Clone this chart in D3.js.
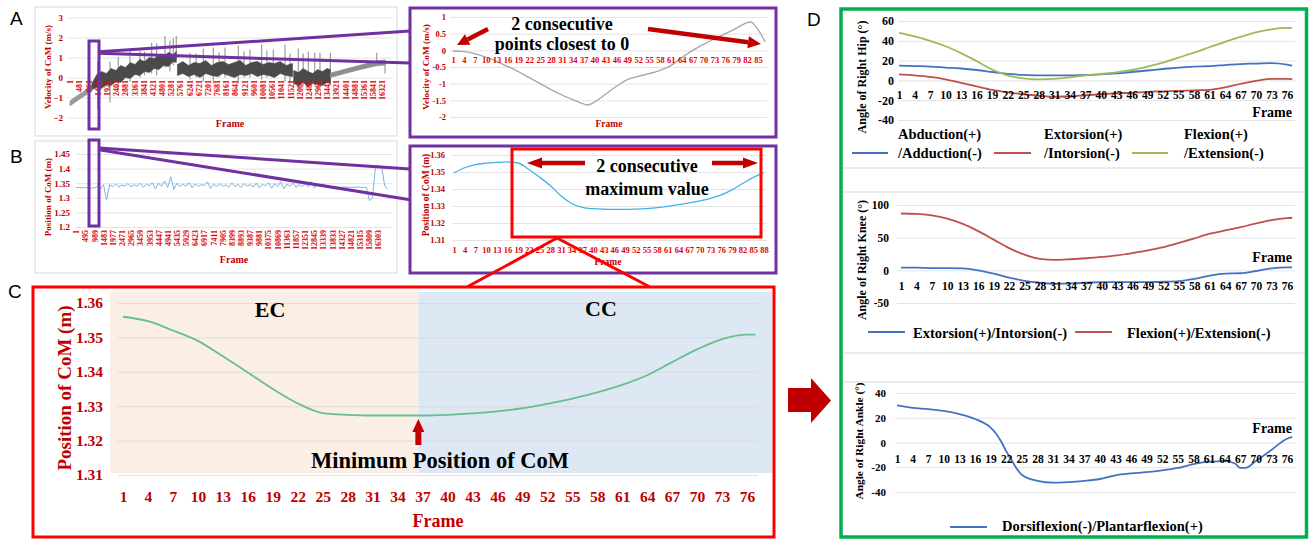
<!DOCTYPE html>
<html>
<head>
<meta charset="utf-8">
<script src="https://cdn.jsdelivr.net/npm/d3@7"></script>
<style>
  body { margin: 0; background: #fff; }
  svg { display: block; }
</style>
</head>
<body>
<svg id="fig" width="1309" height="540"></svg>
<script>
// ---------------------------------------------------------------------------
// Data
// ---------------------------------------------------------------------------

// Panel A (left) - whole trial, velocity of CoM (m/s). The dense signal is
// kept as a ragged min/max envelope plus the isolated tall spikes.
const velTrendFrames = [1, 300, 600, 900, 1150];
const velTrendLow = [-1.42, -1.22, -1.02, -0.84, -0.7];
const velTrendHigh = [-1.16, -0.96, -0.76, -0.56, -0.42];

const velRiseFrames = [1150, 1400, 1650, 1900, 2150, 2400, 2650, 2900, 3150, 3400, 3650, 3900, 4150, 4400, 4650, 4900, 5150, 5400, 5560];
const velRiseLow = [-0.6, -0.5, -0.55, -0.35, -0.4, -0.2, -0.25, 0.0, -0.05, 0.15, 0.1, 0.3, 0.25, 0.45, 0.4, 0.6, 0.55, 0.8, 0.75];
const velRiseHigh = [-0.3, 0.15, 0.3, 0.2, 0.45, 0.35, 0.6, 0.5, 0.75, 0.65, 0.9, 0.8, 1.0, 0.95, 1.1, 1.05, 1.25, 1.15, 1.3];

const velMidFrames = [5620, 5900, 6200, 6500, 6800, 7100, 7400, 7700, 8000, 8300, 8600, 8900, 9200, 9500, 9800, 10100, 10400, 10700, 11000, 11300, 11640];
const velMidLow = [0.1, 0.2, 0.05, 0.15, 0.0, 0.2, 0.1, 0.05, 0.2, 0.1, 0.0, 0.15, 0.1, 0.2, 0.05, 0.15, 0.1, 0.0, 0.2, 0.1, 0.05];
const velMidHigh = [0.65, 0.8, 0.6, 0.75, 0.7, 0.85, 0.6, 0.75, 0.8, 0.65, 0.75, 0.85, 0.6, 0.75, 0.8, 0.65, 0.75, 0.7, 0.8, 0.6, 0.7];

const velLowFrames = [11700, 11950, 12200, 12450, 12700, 12950, 13200, 13450, 13620];
const velLowLow = [-0.3, -0.4, -0.25, -0.45, -0.3, -0.35, -0.4, -0.25, -0.3];
const velLowHigh = [0.35, 0.25, 0.45, 0.3, 0.2, 0.4, 0.3, 0.45, 0.4];

const velTailFrames = [13620, 14400, 15200, 16000, 16480];
const velTailLow = [0.0, 0.2, 0.4, 0.58, 0.62];
const velTailHigh = [0.22, 0.42, 0.62, 0.82, 0.88];

const velSpikeFrames = [1450, 2093, 2527, 3139, 3662, 3900, 4272, 4534, 4970, 5231, 5405, 5560, 6277, 6600, 6975, 7497, 7800, 8108, 8806, 9100, 9415, 10027, 10300, 10636, 11246, 11508, 11943, 12200, 12466, 12800, 13076, 13620, 16042, 16480];
const velSpikeTop = [0.8, 0.8, 1.03, 1.42, 1.35, 1.3, 1.74, 1.7, 2.08, 1.85, 1.96, 2.08, 1.24, 1.2, 1.45, 1.5, 1.25, 1.5, 1.6, 1.3, 1.4, 1.65, 1.35, 1.4, 1.65, 1.2, 1.45, 1.2, 1.3, 1.25, 1.24, 1.24, 1.24, 0.75];
const velSpikeBottom = [-1.6, -1.25, -0.6, -0.2, 0.0, 0.1, 0.2, 0.1, 0.5, 0.3, 0.6, 0.9, -0.1, 0.0, -0.2, -0.3, 0.0, 0.0, -0.3, 0.0, 0.0, -0.1, 0.0, 0.0, -0.2, -0.3, -0.6, -0.4, -0.5, -0.4, -0.5, -0.4, 0.6, 0.2];

const velFullTicks = d3.range(1, 16322, 480);
const velFullYTicks = [-2, -1, 0, 1, 2, 3];

// Panel A (right) - zoomed velocity
const velZoomFrames = [1, 4, 7, 10, 13, 16, 19, 22, 25, 28, 31, 34, 37, 38, 40, 43, 46, 49, 52, 55, 58, 61, 64, 67, 70, 73, 76, 79, 82, 83, 85, 87];
const velZoomValues = [-0.02, -0.04, -0.1, -0.2, -0.33, -0.48, -0.64, -0.82, -1.0, -1.18, -1.34, -1.48, -1.61, -1.64, -1.55, -1.32, -1.08, -0.88, -0.78, -0.7, -0.6, -0.46, -0.22, 0.0, 0.18, 0.34, 0.5, 0.66, 0.83, 0.85, 0.62, 0.25];
const velZoomTicks = d3.range(1, 86, 3);
const velZoomYTicks = [-2, -1.5, -1, -0.5, 0, 0.5, 1];

// Panel B (left) - whole trial, position of CoM (m), one value every 165 frames
const posFullStep = 165;
const posFullValues = [
  1.335, 1.335, 1.334, 1.335, 1.335, 1.333, 1.334, 1.338, 1.330, 1.345,
  1.292, 1.345, 1.338, 1.348, 1.336, 1.344, 1.340, 1.349, 1.337, 1.345,
  1.339, 1.350, 1.336, 1.346, 1.341, 1.352, 1.330, 1.350, 1.340, 1.358,
  1.335, 1.372, 1.328, 1.350, 1.338, 1.347, 1.340, 1.352, 1.334, 1.348,
  1.339, 1.345, 1.342, 1.355, 1.332, 1.347, 1.338, 1.349, 1.340, 1.344,
  1.336, 1.351, 1.338, 1.346, 1.335, 1.349, 1.340, 1.345, 1.337, 1.350,
  1.334, 1.346, 1.341, 1.352, 1.333, 1.348, 1.339, 1.355, 1.331, 1.347,
  1.340, 1.350, 1.336, 1.345, 1.339, 1.348, 1.337, 1.356, 1.333, 1.344,
  1.340, 1.347, 1.338, 1.336, 1.336, 1.337, 1.336, 1.336, 1.337, 1.336,
  1.336, 1.336, 1.337, 1.336, 1.336, 1.336, 1.290, 1.300, 1.410, 1.410,
  1.408, 1.340, 1.330
];
const posFullTicks = d3.range(1, 16304, 494);
const posFullYTicks = [1.2, 1.25, 1.3, 1.35, 1.4, 1.45];

// Panel B (right) - zoomed position
const posZoomFrames = d3.range(1, 89, 3);
const posZoomValues = [1.3495, 1.3525, 1.3543, 1.3552, 1.3557, 1.3559, 1.3553, 1.3515, 1.3470, 1.3420, 1.3360, 1.3315, 1.3292, 1.3284, 1.3281, 1.3280, 1.3280, 1.3282, 1.3285, 1.3290, 1.3298, 1.3308, 1.3318, 1.3330, 1.3345, 1.3365, 1.3395, 1.3432, 1.3468, 1.3497];
const posZoomYTicks = [1.31, 1.32, 1.33, 1.34, 1.35, 1.36];

// Panel C - one cycle, position of CoM (m)
const cycleFrames = [1, 4, 7, 10, 13, 16, 19, 22, 25, 28, 31, 34, 37, 40, 43, 46, 49, 52, 55, 58, 61, 64, 67, 70, 73, 76, 77];
const cycleValues = [1.356, 1.3547, 1.352, 1.349, 1.3445, 1.3398, 1.335, 1.3308, 1.328, 1.3275, 1.3273, 1.3273, 1.3273, 1.3275, 1.3279, 1.3285, 1.3294, 1.3307, 1.3322, 1.334, 1.3362, 1.339, 1.3428, 1.3465, 1.3495, 1.3508, 1.3508];
const cycleTicks = d3.range(1, 77, 3);
const cycleYTicks = [1.31, 1.32, 1.33, 1.34, 1.35, 1.36];
const cycleSplitFrame = 36.5;

// Panel D - joint angles (deg) for the same cycle
const jointFrames = [1, 4, 7, 10, 13, 16, 19, 22, 25, 28, 31, 34, 37, 40, 43, 46, 49, 52, 55, 58, 61, 64, 67, 70, 73, 76, 77];
const hipAbduction = [15, 14.5, 14, 13, 12, 10.5, 8.5, 6.5, 5.5, 5, 5, 5, 5.5, 6, 7, 8.5, 10, 11.5, 13, 14, 14.5, 15.5, 16.5, 17, 17.5, 16, 15];
const hipExtorsion = [6, 5, 3.5, 1, -2.5, -6, -9.5, -12, -14, -15.5, -16.5, -16, -15, -14, -13, -12.5, -11.5, -11, -10.5, -10, -9.5, -7, -3.5, -0.5, 1.5, 1.5, 1.2];
const hipFlexion = [48, 44.5, 40, 34.5, 27.5, 19.5, 11, 5, 2, 1, 1.5, 3, 5, 6.5, 8, 10.5, 14, 18, 23, 28, 33.5, 39, 44, 48.5, 51.5, 53, 53];
const kneeExtorsion = [4, 4, 3.5, 3.5, 3, 0, -5, -11, -16, -19, -20.5, -20, -19, -18, -18, -18, -18, -17.5, -16.5, -13, -8, -5, -4.5, -1, 3, 4.5, 4.5];
const kneeFlexion = [87, 86.5, 84, 79, 71, 60, 47, 34, 24, 17.5, 16, 17, 18.5, 20.5, 23, 26.5, 30.5, 35.5, 42, 49, 56, 61, 66, 72, 77, 80, 80.5];
const ankleFrames = [1, 4, 7, 10, 13, 16, 19, 20, 21, 22, 23, 24, 25, 28, 31, 34, 37, 40, 43, 46, 49, 52, 55, 58, 61, 64, 66, 67, 68, 70, 73, 76, 77];
const ankleDorsi = [30, 28, 27, 25.5, 23, 19, 12, 7.5, 1, -7, -14, -21, -26, -31, -32.5, -32, -31, -29.5, -26.5, -25, -24, -22.5, -20.5, -17.5, -15.5, -15, -17, -20.5, -20.5, -15, -6, 3, 4.5];
const jointTicks = d3.range(1, 77, 3);
const hipYTicks = [-40, -20, 0, 20, 40, 60];
const kneeYTicks = [-50, 0, 50, 100];
const ankleYTicks = [-40, -20, 0, 20, 40];

// ---------------------------------------------------------------------------
// Styling
// ---------------------------------------------------------------------------
const SERIF = "'Liberation Serif','Times New Roman',serif";
const SANS = "'Liberation Sans',Arial,sans-serif";
const RED = "#C00000";
const PURPLE = "#7030A0";
const GRID = "#E4E4E4";

const svg = d3.select("#fig");

function yAxis(g, y, ticks, x0, x1, labelRight, size, color, gridColor, fmt) {
    const ax = d3.axisLeft(y)
        .tickValues(ticks)
        .tickSize(-(x1 - x0))
        .tickPadding(x0 - labelRight)
        .tickFormat(fmt || ((d) => String(d)));
    const a = g.append("g").attr("transform", `translate(${x0},0)`).call(ax);
    a.select(".domain").remove();
    a.selectAll(".tick line").attr("stroke", gridColor).attr("stroke-width", 1);
    a.selectAll(".tick text")
        .attr("fill", color)
        .style("font", `bold ${size}px ${SERIF}`);
    return a;
}

// Category labels along the frame axis; `offset` is the baseline distance
// below yPos (or, when rotated, the gap between yPos and the label end).
function xAxis(g, x, ticks, yPos, offset, size, color, rotate) {
    const ax = d3.axisBottom(x).tickValues(ticks).tickSize(0).tickFormat(d3.format("d"));
    const a = g.append("g").attr("transform", `translate(0,${yPos})`).call(ax);
    a.select(".domain").remove();
    const t = a.selectAll(".tick text")
        .attr("fill", color)
        .style("font", `bold ${size}px ${SERIF}`);
    if (rotate) {
        t.attr("transform", "rotate(-90)")
            .attr("x", -offset).attr("y", 0).attr("dy", "0.35em")
            .attr("text-anchor", "end");
    } else {
        t.attr("y", offset).attr("dy", null);
    }
    return a;
}

function text(g, x, y, str, size, color, anchor, family, weight) {
    return g.append("text")
        .attr("x", x).attr("y", y)
        .attr("text-anchor", anchor || "middle")
        .attr("fill", color)
        .style("font", `${weight || "bold"} ${size}px ${family || SERIF}`)
        .text(str);
}

function vTitle(g, x, cy, str, size, color) {
    return g.append("text")
        .attr("transform", `translate(${x},${cy}) rotate(-90)`)
        .attr("text-anchor", "middle")
        .attr("fill", color)
        .style("font", `bold ${size}px ${SERIF}`)
        .text(str);
}

function fatArrow(g, x1, y1, x2, y2, w, headL, headW, color) {
    const len = Math.hypot(x2 - x1, y2 - y1);
    const ux = (x2 - x1) / len, uy = (y2 - y1) / len;
    const bx = x2 - ux * headL, by = y2 - uy * headL;
    g.append("line")
        .attr("x1", x1).attr("y1", y1).attr("x2", bx).attr("y2", by)
        .attr("stroke", color).attr("stroke-width", w);
    g.append("polygon")
        .attr("points", [
            [x2, y2],
            [bx - uy * headW / 2, by + ux * headW / 2],
            [bx + uy * headW / 2, by - ux * headW / 2],
        ].map((p) => p.join(",")).join(" "))
        .attr("fill", color);
}

function drawLine(g, x, y, frames, values, color, width, curve) {
    g.append("path")
        .datum(frames.map((f, i) => [f, values[i]]))
        .attr("fill", "none")
        .attr("stroke", color)
        .attr("stroke-width", width)
        .attr("stroke-linejoin", "round")
        .attr("d", d3.line().x((d) => x(d[0])).y((d) => y(d[1])).curve(curve || d3.curveMonotoneX));
}

function drawBand(g, x, y, frames, lo, hi, color) {
    g.append("path")
        .datum(frames.map((f, i) => ({ f, lo: lo[i], hi: hi[i] })))
        .attr("fill", color)
        .attr("stroke", color)
        .attr("stroke-width", 0.6)
        .attr("d", d3.area().x((d) => x(d.f)).y0((d) => y(d.lo)).y1((d) => y(d.hi)));
}

// ---------------------------------------------------------------------------
// Panel A, left: full-trial velocity
// ---------------------------------------------------------------------------
const aL = svg.append("g");
aL.append("rect").attr("x", 35).attr("y", 7).attr("width", 362).attr("height", 129)
    .attr("fill", "#fff").attr("stroke", "#D9D9D9");
const xVelFull = d3.scaleLinear().domain([1, 16321]).range([70, 382]);
const yVelFull = d3.scaleLinear().domain([-2, 3]).range([117.5, 17.5]);
yAxis(aL, yVelFull, velFullYTicks, 67, 393, 63, 9, RED, GRID, d3.format("d"));
aL.append("g").selectAll("line")
    .data(velSpikeFrames.map((f, i) => ({ f, t: velSpikeTop[i], b: velSpikeBottom[i] })))
    .join("line")
    .attr("x1", (d) => xVelFull(d.f)).attr("x2", (d) => xVelFull(d.f))
    .attr("y1", (d) => yVelFull(d.t)).attr("y2", (d) => yVelFull(d.b))
    .attr("stroke", "#9C9C9C").attr("stroke-width", 1.2);
drawBand(aL, xVelFull, yVelFull, velTrendFrames, velTrendLow, velTrendHigh, "#9A9A9A");
drawBand(aL, xVelFull, yVelFull, velRiseFrames, velRiseLow, velRiseHigh, "#4A4A4A");
drawBand(aL, xVelFull, yVelFull, velMidFrames, velMidLow, velMidHigh, "#4A4A4A");
drawBand(aL, xVelFull, yVelFull, velLowFrames, velLowLow, velLowHigh, "#4A4A4A");
drawBand(aL, xVelFull, yVelFull, velTailFrames, velTailLow, velTailHigh, "#8E8E8E");
xAxis(aL, xVelFull, velFullTicks, yVelFull(0), 2.5, 8, "#E00000", true);
text(aL, 230, 127, "Frame", 10, RED);
vTitle(aL, 51, 67, "Velocity of CoM (m/s)", 9, RED);

// ---------------------------------------------------------------------------
// Panel A, right: zoomed velocity
// ---------------------------------------------------------------------------
const aR = svg.append("g");
aR.append("rect").attr("x", 410).attr("y", 8).attr("width", 366).attr("height", 129)
    .attr("fill", "#fff").attr("stroke", PURPLE).attr("stroke-width", 3);
const xVelZoom = d3.scaleLinear().domain([1, 85]).range([453, 758]);
const yVelZoom = d3.scaleLinear().domain([-2, 1]).range([117, 17]);
yAxis(aR, yVelZoom, velZoomYTicks, 450, 767, 446, 8.5, RED, GRID);
drawLine(aR, xVelZoom, yVelZoom, velZoomFrames, velZoomValues, "#A6A6A6", 1.3);
xAxis(aR, xVelZoom, velZoomTicks, yVelZoom(0), 13, 8.5, "#E00000", false);
text(aR, 609, 127, "Frame", 9.5, RED);
vTitle(aR, 429, 67, "Velocity of CoM (m/s)", 9.2, RED);
text(aR, 562, 30, "2 consecutive", 18, "#000");
text(aR, 562, 50, "points closest to 0", 18, "#000");
fatArrow(aR, 488, 29, 457, 45, 4.5, 12, 12, RED);
fatArrow(aR, 648, 29, 761, 44, 4.5, 13, 12, RED);

// ---------------------------------------------------------------------------
// Panel B, left: full-trial position
// ---------------------------------------------------------------------------
const bL = svg.append("g");
bL.append("rect").attr("x", 35).attr("y", 141).attr("width", 362).attr("height", 132)
    .attr("fill", "#fff").attr("stroke", "#D9D9D9");
const xPosFull = d3.scaleLinear().domain([1, 16303]).range([76, 378]);
const yPosFull = d3.scaleLinear().domain([1.2, 1.45]).range([227, 154]);
yAxis(bL, yPosFull, posFullYTicks, 76, 392, 70, 9, RED, GRID);
drawLine(bL, xPosFull, yPosFull, posFullValues.map((_, i) => 1 + i * posFullStep), posFullValues, "#7DB3E3", 1, d3.curveLinear);
xAxis(bL, xPosFull, posFullTicks, 229, 1, 8, "#E00000", true);
text(bL, 234, 263, "Frame", 10, RED);
vTitle(bL, 51, 197, "Position of CoM (m)", 9, RED);

// ---------------------------------------------------------------------------
// Panel B, right: zoomed position
// ---------------------------------------------------------------------------
const bR = svg.append("g");
bR.append("rect").attr("x", 410).attr("y", 146).attr("width", 366).attr("height", 127)
    .attr("fill", "#fff").attr("stroke", PURPLE).attr("stroke-width", 3);
const xPosZoom = d3.scaleLinear().domain([1, 88]).range([454, 764]);
const yPosZoom = d3.scaleLinear().domain([1.31, 1.36]).range([240, 155]);
yAxis(bR, yPosZoom, posZoomYTicks, 452, 767, 445, 8.5, RED, GRID);
drawLine(bR, xPosZoom, yPosZoom, posZoomFrames, posZoomValues, "#3FB3E6", 1.3);
xAxis(bR, xPosZoom, posZoomFrames, yPosZoom(1.31), 13, 8.5, "#E00000", false);
text(bR, 608, 265, "Frame", 9.5, RED);
vTitle(bR, 429, 195, "Position of CoM (m)", 9.5, RED);
bR.append("rect").attr("x", 512).attr("y", 149).attr("width", 249).attr("height", 88)
    .attr("fill", "none").attr("stroke", "#FF0000").attr("stroke-width", 3);
text(bR, 647, 172, "2 consecutive", 18, "#000");
text(bR, 647, 195, "maximum value", 18, "#000");
fatArrow(bR, 585, 163, 527, 163, 4.5, 15, 11, RED);
fatArrow(bR, 712, 163, 758, 163, 4.5, 15, 11, RED);

// zoom connectors
const conn = svg.append("g").attr("stroke", PURPLE).attr("stroke-width", 3).attr("fill", "none");
conn.append("rect").attr("x", 89).attr("y", 41).attr("width", 10).attr("height", 88);
conn.append("rect").attr("x", 89).attr("y", 140).attr("width", 10).attr("height", 86);
conn.append("line").attr("x1", 99).attr("y1", 51.7).attr("x2", 410).attr("y2", 31);
conn.append("line").attr("x1", 99).attr("y1", 53.3).attr("x2", 410).attr("y2", 63);
conn.append("line").attr("x1", 99).attr("y1", 148).attr("x2", 410).attr("y2", 169);
conn.append("line").attr("x1", 99).attr("y1", 149.7).attr("x2", 410).attr("y2", 199.7);

// ---------------------------------------------------------------------------
// Panel C: one cycle, EC / CC phases
// ---------------------------------------------------------------------------
const cG = svg.append("g");
const xCycle = d3.scaleLinear().domain([1, 76]).range([123, 747]);
const yCycle = d3.scaleLinear().domain([1.31, 1.36]).range([475, 303]);
cG.append("rect").attr("x", 110).attr("y", 292)
    .attr("width", xCycle(cycleSplitFrame) - 110).attr("height", 181).attr("fill", "#FBEEE4");
cG.append("rect").attr("x", xCycle(cycleSplitFrame)).attr("y", 292)
    .attr("width", 772 - xCycle(cycleSplitFrame)).attr("height", 181).attr("fill", "#DDE8F4");
const cAx = yAxis(cG, yCycle, cycleYTicks, 118, 758, 103, 15.5, RED, "#D6D6D6", d3.format(".2f"));
cAx.selectAll(".tick line").attr("stroke-opacity", 0.75);
drawLine(cG, xCycle, yCycle, cycleFrames, cycleValues, "#66C08E", 1.8);
xAxis(cG, xCycle, cycleTicks, yCycle(1.31), 27, 15.5, RED, false);
text(cG, 438, 527, "Frame", 18, RED);
vTitle(cG, 71, 388, "Position of CoM (m)", 19, RED);
text(cG, 270, 317, "EC", 22, "#000");
text(cG, 601, 316, "CC", 22, "#000");
text(cG, 440, 468, "Minimum Position of CoM", 22.5, "#000");
fatArrow(cG, xCycle(cycleSplitFrame), 445, xCycle(cycleSplitFrame), 419, 6, 13, 12, RED);
cG.append("rect").attr("x", 33).attr("y", 287).attr("width", 741).attr("height", 250)
    .attr("fill", "none").attr("stroke", "#FF0000").attr("stroke-width", 3);
const cConn = svg.append("g").attr("stroke", "#FF0000").attr("stroke-width", 3);
cConn.append("line").attr("x1", 557).attr("y1", 238).attr("x2", 467).attr("y2", 287);
cConn.append("line").attr("x1", 557).attr("y1", 238).attr("x2", 650).attr("y2", 287);

// block arrow between C and D
svg.append("polygon")
    .attr("points", "788,388 811,388 811,378 831,400.5 811,423 811,412 788,412")
    .attr("fill", RED);

// ---------------------------------------------------------------------------
// Panel D: joint angles
// ---------------------------------------------------------------------------
const dG = svg.append("g");
const sep = dG.append("g").attr("stroke", "#D9D9D9").attr("stroke-width", 1);
[168, 192, 353, 382].forEach((y) => sep.append("line").attr("x1", 843).attr("x2", 1305).attr("y1", y).attr("y2", y));

function legendEntry(g, x0, x1, y, color, tx, lines, ty, lh) {
    g.append("line").attr("x1", x0).attr("x2", x1).attr("y1", y).attr("y2", y)
        .attr("stroke", color).attr("stroke-width", 2);
    lines.forEach((s, i) => text(g, tx, ty + i * lh, s, 14.5, "#000", "start"));
}

// Hip
const xHip = d3.scaleLinear().domain([1, 76]).range([899, 1287]);
const yHip = d3.scaleLinear().domain([-40, 60]).range([120, 21]);
yAxis(dG, yHip, hipYTicks, 898, 1295, 894, 12, "#000", GRID);
drawLine(dG, xHip, yHip, jointFrames, hipAbduction, "#4472C4", 1.8);
drawLine(dG, xHip, yHip, jointFrames, hipExtorsion, "#C0504D", 1.8);
drawLine(dG, xHip, yHip, jointFrames, hipFlexion, "#9BBB59", 1.8);
xAxis(dG, xHip, jointTicks, yHip(0), 19, 11.5, "#000", false);
text(dG, 1292, 117, "Frame", 14, "#000", "end");
vTitle(dG, 866, 77, "Angle of Right Hip (°)", 12, "#000");
legendEntry(dG, 852, 888, 153, "#4472C4", 898, ["Abduction(+)", "/Adduction(-)"], 139, 19);
legendEntry(dG, 994, 1031, 153, "#C0504D", 1044, ["Extorsion(+)", "/Intorsion(-)"], 139, 19);
legendEntry(dG, 1132, 1168, 153, "#9BBB59", 1184, ["Flexion(+)", "/Extension(-)"], 139, 19);

// Knee
const xKnee = d3.scaleLinear().domain([1, 76]).range([901, 1287]);
const yKnee = d3.scaleLinear().domain([-50, 100]).range([303, 205]);
yAxis(dG, yKnee, kneeYTicks, 897, 1295, 889, 11.5, "#000", GRID);
drawLine(dG, xKnee, yKnee, jointFrames, kneeExtorsion, "#4472C4", 1.8);
drawLine(dG, xKnee, yKnee, jointFrames, kneeFlexion, "#C0504D", 1.8);
xAxis(dG, xKnee, jointTicks, yKnee(0), 20, 11.5, "#000", false);
text(dG, 1292, 262, "Frame", 14, "#000", "end");
vTitle(dG, 866, 260, "Angle of Right Knee (°)", 12, "#000");
legendEntry(dG, 868, 905, 332, "#4472C4", 913, ["Extorsion(+)/Intorsion(-)"], 338, 0);
legendEntry(dG, 1075, 1112, 332, "#C0504D", 1127, ["Flexion(+)/Extension(-)"], 338, 0);

// Ankle
const xAnkle = d3.scaleLinear().domain([1, 76]).range([897, 1287]);
const yAnkle = d3.scaleLinear().domain([-40, 40]).range([492, 393]);
yAxis(dG, yAnkle, ankleYTicks, 895, 1295, 886, 11, "#000", GRID);
drawLine(dG, xAnkle, yAnkle, ankleFrames, ankleDorsi, "#4472C4", 1.8);
xAxis(dG, xAnkle, jointTicks, yAnkle(0), 20, 11.5, "#000", false);
text(dG, 1292, 433, "Frame", 14, "#000", "end");
vTitle(dG, 863, 441, "Angle of Right Ankle (°)", 11.4, "#000");
legendEntry(dG, 950, 987, 527, "#4472C4", 1002, ["Dorsiflexion(-)/Plantarflexion(+)"], 531, 0);

dG.append("rect").attr("x", 841).attr("y", 9).attr("width", 465.5).attr("height", 528)
    .attr("fill", "none").attr("stroke", "#00B050").attr("stroke-width", 3.5);

// panel letters
text(svg, 10, 25, "A", 19, "#000", "start", SANS, "normal");
text(svg, 10, 163, "B", 19, "#000", "start", SANS, "normal");
text(svg, 8, 298, "C", 19, "#000", "start", SANS, "normal");
text(svg, 807, 26, "D", 19, "#000", "start", SANS, "normal");
</script>
</body>
</html>
